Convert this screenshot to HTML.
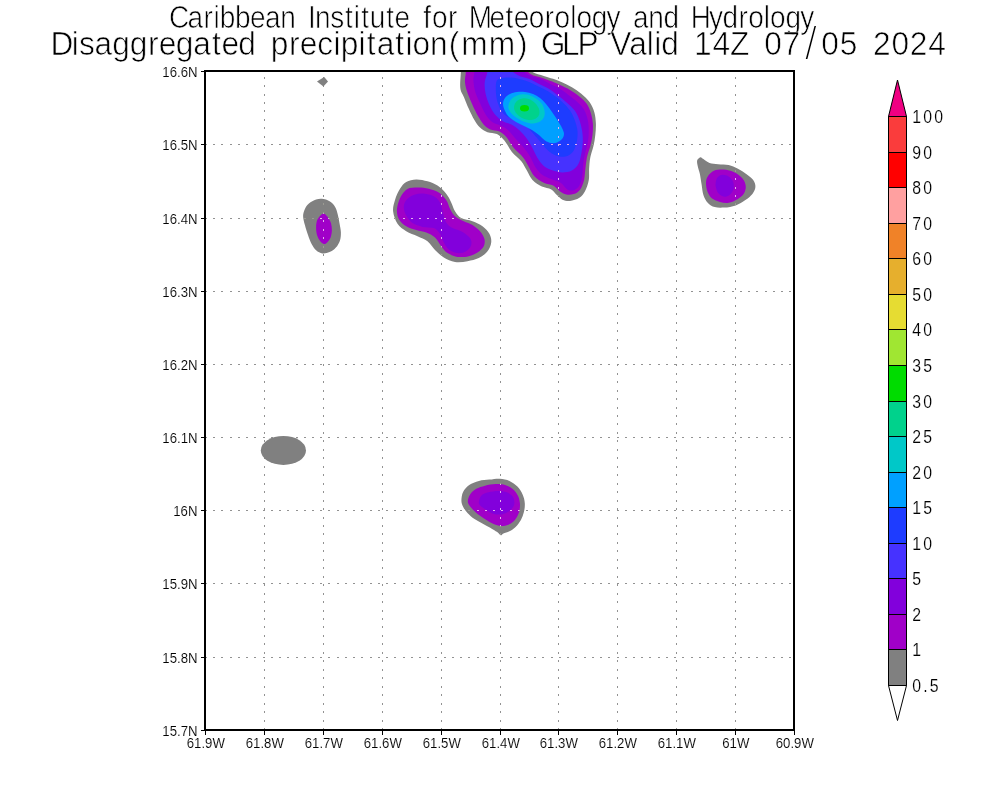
<!DOCTYPE html>
<html lang="en"><head><meta charset="utf-8"><title>Disaggregated precipitation GLP</title>
<style>
html,body{margin:0;padding:0;background:#fff}
body{width:1000px;height:800px;overflow:hidden}
svg{display:block}
text{font-family:"Liberation Sans","DejaVu Sans",sans-serif;fill:#000}
.ttl{font-family:"Liberation Sans",sans-serif;stroke:#fff;stroke-width:.65px}
.ax{font-size:14.5px;stroke:#fff;stroke-width:.12px}
.cb{font-size:18px;stroke:#fff;stroke-width:.15px;letter-spacing:2.5px}
</style></head><body>
<svg width="1000" height="800" viewBox="0 0 1000 800">
<rect width="1000" height="800" fill="#fff"/>
<defs><clipPath id="plot"><rect x="205" y="71" width="589" height="659"/></clipPath></defs>
<g stroke="#929292" stroke-width="1" fill="none" shape-rendering="crispEdges"><g stroke-dasharray="2 6.46"><path d="M264.5 730.0V71.0"/><path d="M323.5 730.0V71.0"/><path d="M382.5 730.0V71.0"/><path d="M441.5 730.0V71.0"/><path d="M500.5 730.0V71.0"/><path d="M558.5 730.0V71.0"/><path d="M617.5 730.0V71.0"/><path d="M676.5 730.0V71.0"/><path d="M735.5 730.0V71.0"/></g><g stroke-dasharray="2 6.23"><path d="M205.0 144.5H794.0"/><path d="M205.0 218.5H794.0"/><path d="M205.0 291.5H794.0"/><path d="M205.0 364.5H794.0"/><path d="M205.0 437.5H794.0"/><path d="M205.0 510.5H794.0"/><path d="M205.0 583.5H794.0"/><path d="M205.0 657.5H794.0"/></g></g>
<g clip-path="url(#plot)">
<path fill="#808080" d="M478.1 48.7C470.7 49.4 464.5 48.7 461.6 52.5C458.8 56.2 461.1 65.3 460.9 71.3C460.7 77.2 459.8 83.8 460.3 88.1C460.8 92.5 462.7 94.1 464.1 97.5C465.5 100.9 467.0 105.0 468.8 108.8C470.5 112.5 472.5 116.9 474.4 120.0C476.3 123.1 477.8 125.5 480.0 127.5C482.2 129.5 484.7 131.1 487.5 132.2C490.3 133.3 494.1 132.7 496.9 134.1C499.7 135.5 501.9 137.7 504.4 140.6C506.9 143.6 509.1 148.4 511.9 151.9C514.7 155.3 518.8 158.1 521.3 161.3C523.8 164.4 525.0 167.5 526.9 170.6C528.8 173.8 530.0 177.4 532.5 180.0C535.0 182.7 538.8 185.0 541.9 186.6C545.0 188.1 548.8 188.0 551.3 189.4C553.8 190.8 555.0 193.3 556.9 195.0C558.8 196.7 560.3 198.7 562.5 199.7C564.7 200.7 567.2 201.3 570.0 201.0C572.8 200.7 576.9 199.4 579.4 197.8C581.9 196.2 583.4 194.2 585.0 191.3C586.6 188.3 588.1 183.8 588.8 180.0C589.4 176.3 588.9 172.5 589.1 168.8C589.4 165.0 589.5 161.3 590.3 157.5C591.0 153.8 592.6 150.0 593.4 146.3C594.3 142.5 594.9 138.8 595.3 135.0C595.7 131.3 596.0 127.5 595.9 123.8C595.7 120.0 595.4 116.1 594.4 112.5C593.4 108.9 591.9 105.3 589.7 102.2C587.5 99.1 584.2 96.3 581.3 93.8C578.3 91.3 575.0 89.1 571.9 87.2C568.8 85.3 565.6 83.9 562.5 82.5C559.4 81.1 556.3 79.8 553.1 78.8C550.0 77.7 547.2 77.1 543.8 75.9C540.3 74.8 535.6 74.0 532.5 72.0C529.4 70.0 529.4 67.6 525.0 63.8C520.6 59.9 514.1 51.2 506.3 48.7C498.4 46.2 485.6 48.1 478.1 48.7Z"/>
<path fill="#a000c8" d="M478.1 48.7C471.6 49.4 468.9 48.7 466.9 52.5C464.8 56.2 466.3 66.3 465.9 71.3C465.6 76.3 464.7 78.8 465.0 82.5C465.3 86.3 466.6 90.0 467.8 93.8C469.1 97.5 470.8 101.3 472.5 105.0C474.2 108.8 476.3 113.0 478.1 116.3C480.0 119.5 481.7 122.5 483.8 124.7C485.8 126.9 487.8 128.3 490.3 129.4C492.8 130.5 496.1 130.0 498.8 131.3C501.4 132.5 503.8 134.1 506.3 136.9C508.8 139.7 510.9 144.7 513.8 148.1C516.6 151.6 520.6 154.4 523.1 157.5C525.6 160.6 526.9 163.8 528.8 166.9C530.6 170.0 531.9 173.6 534.4 176.3C536.9 178.9 540.6 181.3 543.8 182.8C546.9 184.4 550.5 184.2 553.1 185.6C555.8 187.0 557.5 189.8 559.7 191.3C561.9 192.8 563.9 194.2 566.3 194.6C568.6 195.1 571.4 194.9 573.8 194.1C576.1 193.2 578.6 191.7 580.3 189.4C582.0 187.0 583.2 183.4 584.1 180.0C584.9 176.6 584.9 172.5 585.4 168.8C585.9 165.0 586.1 161.3 586.9 157.5C587.7 153.8 589.3 150.0 590.3 146.3C591.2 142.5 592.1 138.8 592.5 135.0C592.9 131.3 593.1 127.3 592.9 123.8C592.6 120.2 592.0 116.7 591.0 113.4C590.0 110.2 588.8 106.9 586.9 104.1C584.9 101.3 582.2 98.9 579.4 96.6C576.6 94.2 573.1 91.9 570.0 90.0C566.9 88.1 563.6 86.7 560.6 85.3C557.7 83.9 555.3 82.8 552.2 81.6C549.1 80.3 545.5 79.1 541.9 77.8C538.3 76.6 534.1 76.4 530.6 74.1C527.2 71.7 525.3 68.0 521.3 63.8C517.2 59.5 513.4 51.2 506.3 48.7C499.1 46.2 484.7 48.1 478.1 48.7Z"/>
<path fill="#8200dc" d="M483.8 48.7C478.6 49.4 476.9 48.7 475.3 52.5C473.8 56.2 474.7 66.6 474.4 71.3C474.1 75.9 473.3 77.2 473.4 80.6C473.6 84.1 474.2 88.1 475.3 91.9C476.4 95.6 478.3 99.4 480.0 103.1C481.7 106.9 483.6 111.3 485.6 114.4C487.7 117.5 489.7 120.0 492.2 121.9C494.7 123.8 498.0 124.2 500.6 125.6C503.3 127.0 505.6 128.1 508.1 130.3C510.6 132.5 513.0 135.8 515.6 138.8C518.3 141.7 521.6 145.0 524.1 148.1C526.6 151.3 528.8 154.4 530.6 157.5C532.5 160.6 533.4 164.1 535.3 166.9C537.2 169.7 539.2 172.4 541.9 174.4C544.5 176.4 548.1 177.7 551.3 179.1C554.4 180.5 558.0 181.1 560.6 182.8C563.3 184.5 565.0 188.1 567.2 189.4C569.4 190.6 571.7 190.9 573.8 190.3C575.8 189.7 578.0 188.0 579.4 185.6C580.8 183.3 581.6 179.7 582.2 176.3C582.8 172.8 582.7 168.8 583.1 165.0C583.6 161.3 584.2 157.5 585.0 153.8C585.8 150.0 587.2 146.3 587.8 142.5C588.4 138.8 588.8 135.0 588.8 131.3C588.8 127.5 588.6 123.6 587.8 120.0C587.0 116.4 585.8 112.7 584.1 109.7C582.4 106.7 580.2 104.7 577.5 102.2C574.9 99.7 571.3 97.0 568.1 94.7C565.0 92.3 561.6 89.8 558.8 88.1C555.9 86.4 554.4 85.9 551.3 84.4C548.1 82.8 543.8 80.3 540.0 78.8C536.3 77.2 532.8 77.5 528.8 75.0C524.7 72.5 519.4 68.1 515.6 63.8C511.9 59.4 511.6 51.2 506.3 48.7C500.9 46.2 488.9 48.1 483.8 48.7Z"/>
<path fill="#4632ff" d="M493.1 48.7C491.1 49.4 489.4 48.7 488.4 52.5C487.5 56.2 488.1 66.3 487.5 71.3C486.9 76.3 485.0 78.8 484.7 82.5C484.4 86.3 484.8 90.0 485.6 93.8C486.4 97.5 487.8 101.6 489.4 105.0C490.9 108.4 492.8 111.7 495.0 114.4C497.2 117.0 499.7 119.2 502.5 120.9C505.3 122.7 509.1 123.1 511.9 124.7C514.7 126.3 516.9 128.0 519.4 130.3C521.9 132.7 524.7 135.8 526.9 138.8C529.1 141.7 530.8 145.0 532.5 148.1C534.2 151.3 535.3 154.5 537.2 157.5C539.1 160.5 541.1 163.8 543.8 165.9C546.4 168.1 550.0 169.5 553.1 170.6C556.3 171.7 559.4 172.5 562.5 172.5C565.6 172.5 569.2 172.0 571.9 170.6C574.5 169.2 576.9 166.9 578.4 164.1C580.0 161.3 580.5 157.3 581.3 153.8C582.0 150.2 582.6 146.3 582.8 142.5C582.9 138.8 582.8 135.0 582.2 131.3C581.6 127.5 580.6 123.4 579.4 120.0C578.1 116.6 576.9 113.6 574.7 110.6C572.5 107.7 569.2 104.8 566.3 102.2C563.3 99.5 560.0 97.0 556.9 94.7C553.8 92.3 550.6 90.0 547.5 88.1C544.4 86.3 541.3 85.0 538.1 83.4C535.0 81.9 532.2 80.2 528.8 78.8C525.3 77.3 521.6 77.5 517.5 75.0C513.4 72.5 507.2 68.1 504.4 63.8C501.6 59.4 502.5 51.2 500.6 48.7C498.8 46.2 495.2 48.1 493.1 48.7Z"/>
<path fill="#1e3cff" d="M496.9 80.6C495.5 83.0 495.8 88.1 495.9 91.9C496.1 95.6 496.7 99.7 497.8 103.1C498.9 106.6 500.5 110.0 502.5 112.5C504.5 115.0 507.2 116.6 510.0 118.1C512.8 119.7 516.4 120.3 519.4 121.9C522.3 123.4 525.3 125.3 527.8 127.5C530.3 129.7 532.2 132.5 534.4 135.0C536.6 137.5 538.8 140.0 540.9 142.5C543.1 145.0 545.0 147.8 547.5 150.0C550.0 152.2 553.0 154.5 555.9 155.6C558.9 156.7 562.5 157.2 565.3 156.6C568.1 155.9 570.9 154.2 572.8 151.9C574.7 149.5 575.8 145.9 576.6 142.5C577.4 139.1 577.8 135.0 577.5 131.3C577.2 127.5 575.9 123.4 574.7 120.0C573.4 116.6 572.0 113.6 570.0 110.6C568.0 107.7 565.3 104.8 562.5 102.2C559.7 99.5 556.3 96.9 553.1 94.7C550.0 92.5 546.9 90.8 543.8 89.1C540.6 87.3 537.5 85.8 534.4 84.4C531.3 83.0 528.4 81.7 525.0 80.6C521.6 79.5 517.2 78.3 513.8 77.8C510.3 77.3 507.2 77.3 504.4 77.8C501.6 78.3 498.3 78.3 496.9 80.6Z"/>
<path fill="#00a0ff" d="M503.0 104.0C503.0 101.8 503.8 99.7 505.0 98.0C506.2 96.3 508.0 95.0 510.0 94.0C512.0 93.0 514.5 92.3 517.0 92.0C519.5 91.7 522.3 91.7 525.0 92.0C527.7 92.3 530.5 93.0 533.0 94.0C535.5 95.0 537.8 96.3 540.0 98.0C542.2 99.7 544.0 101.7 546.0 104.0C548.0 106.3 550.0 109.2 552.0 112.0C554.0 114.8 556.3 118.3 558.0 121.0C559.7 123.7 561.0 125.8 562.0 128.0C563.0 130.2 564.0 132.2 564.0 134.0C564.0 135.8 563.2 137.6 562.0 139.0C560.8 140.4 558.8 141.8 557.0 142.5C555.2 143.2 553.0 143.3 551.0 143.0C549.0 142.7 547.0 141.8 545.0 140.5C543.0 139.2 541.2 136.8 539.0 135.0C536.8 133.2 534.5 131.5 532.0 130.0C529.5 128.5 526.7 127.3 524.0 126.0C521.3 124.7 518.5 123.5 516.0 122.0C513.5 120.5 510.8 118.8 509.0 117.0C507.2 115.2 506.0 113.2 505.0 111.0C504.0 108.8 503.0 106.2 503.0 104.0Z"/>
<path fill="#00c8c8" d="M508.5 108.0C508.2 106.1 508.6 103.8 509.5 102.0C510.4 100.2 512.1 98.2 514.0 97.0C515.9 95.8 518.5 94.8 521.0 94.5C523.5 94.2 526.5 94.3 529.0 95.0C531.5 95.7 533.8 97.0 536.0 98.5C538.2 100.0 540.6 101.9 542.0 104.0C543.4 106.1 544.2 108.8 544.5 111.0C544.8 113.2 544.8 115.2 544.0 117.0C543.2 118.8 541.8 120.4 540.0 121.5C538.2 122.6 535.5 123.4 533.0 123.5C530.5 123.6 527.7 122.9 525.0 122.0C522.3 121.1 519.2 119.4 517.0 118.0C514.8 116.6 512.9 115.2 511.5 113.5C510.1 111.8 508.8 109.9 508.5 108.0Z"/>
<path fill="#00d28c" d="M514.0 108.0C513.9 106.1 514.7 103.6 516.0 102.0C517.3 100.4 519.8 99.0 522.0 98.5C524.2 98.0 526.8 98.2 529.0 99.0C531.2 99.8 533.3 101.3 535.0 103.0C536.7 104.7 538.3 107.0 539.0 109.0C539.7 111.0 539.7 113.3 539.0 115.0C538.3 116.7 536.7 118.2 535.0 119.0C533.3 119.8 531.2 120.2 529.0 120.0C526.8 119.8 524.1 119.1 522.0 118.0C519.9 116.9 517.8 115.2 516.5 113.5C515.2 111.8 514.1 109.9 514.0 108.0Z"/>
<path fill="#808080" d="M393.1 211.2C392.7 207.3 393.9 203.8 395.0 200.0C396.1 196.2 398.1 191.8 400.0 188.8C401.9 185.7 403.5 183.4 406.2 181.9C409.0 180.3 412.7 179.5 416.2 179.4C419.8 179.3 424.0 180.2 427.5 181.2C431.0 182.3 434.4 183.5 437.5 185.6C440.6 187.7 444.0 190.9 446.2 193.8C448.5 196.6 449.8 199.6 451.2 202.5C452.7 205.4 453.3 208.6 455.0 211.2C456.7 213.9 458.3 216.5 461.2 218.1C464.2 219.8 469.0 219.9 472.5 221.2C476.0 222.6 479.7 224.2 482.5 226.2C485.3 228.3 487.9 231.0 489.4 233.8C490.8 236.5 491.6 239.6 491.2 242.5C490.9 245.4 489.6 248.6 487.5 251.2C485.4 253.9 482.1 256.5 478.8 258.1C475.4 259.8 471.5 260.6 467.5 261.2C463.5 261.9 459.0 262.5 455.0 261.9C451.0 261.2 447.1 259.5 443.8 257.5C440.4 255.5 437.7 252.7 435.0 250.0C432.3 247.3 430.4 243.5 427.5 241.2C424.6 239.0 421.0 237.9 417.5 236.2C414.0 234.6 409.6 233.3 406.2 231.2C402.9 229.2 399.7 227.1 397.5 223.8C395.3 220.4 393.5 215.2 393.1 211.2Z"/>
<path fill="#a000c8" d="M396.9 211.2C396.8 208.1 397.7 204.3 398.8 201.2C399.8 198.2 401.4 195.3 403.1 193.1C404.9 190.9 406.8 189.1 409.4 188.1C412.0 187.2 415.5 187.4 418.8 187.5C422.0 187.6 425.4 187.9 428.8 188.8C432.1 189.6 435.8 190.6 438.8 192.5C441.7 194.4 444.4 197.3 446.2 200.0C448.1 202.7 448.5 206.0 450.0 208.8C451.5 211.5 452.7 214.2 455.0 216.2C457.3 218.3 460.8 219.8 463.8 221.2C466.7 222.7 469.8 223.3 472.5 225.0C475.2 226.7 478.0 229.0 480.0 231.2C482.0 233.5 483.8 236.2 484.4 238.8C485.0 241.2 484.9 244.0 483.8 246.2C482.6 248.5 480.0 250.8 477.5 252.5C475.0 254.2 472.1 255.5 468.8 256.2C465.4 257.0 461.0 257.4 457.5 256.9C454.0 256.4 450.2 254.9 447.5 253.1C444.8 251.4 443.3 248.9 441.2 246.2C439.2 243.6 437.5 239.8 435.0 237.5C432.5 235.2 429.4 233.8 426.2 232.5C423.1 231.2 419.6 231.0 416.2 230.0C412.9 229.0 409.1 227.9 406.2 226.2C403.4 224.6 400.9 222.5 399.4 220.0C397.8 217.5 397.0 214.4 396.9 211.2Z"/>
<path fill="#8200dc" d="M403.8 206.2C404.0 203.4 405.6 200.7 407.5 198.8C409.4 196.8 412.1 195.2 415.0 194.4C417.9 193.5 421.7 193.3 425.0 193.8C428.3 194.2 432.4 195.2 435.0 196.9C437.6 198.5 439.3 200.9 440.6 203.8C442.0 206.6 442.2 210.6 443.1 213.8C444.1 216.9 444.7 220.1 446.2 222.5C447.8 224.9 449.8 226.6 452.5 228.1C455.2 229.7 459.6 230.2 462.5 231.9C465.4 233.5 468.5 235.9 470.0 238.1C471.5 240.3 471.9 242.8 471.2 245.0C470.6 247.2 468.5 249.9 466.2 251.2C464.0 252.6 460.4 253.4 457.5 253.1C454.6 252.8 451.0 251.1 448.8 249.4C446.5 247.6 445.2 245.1 443.8 242.5C442.3 239.9 441.7 236.1 440.0 233.8C438.3 231.4 436.7 229.3 433.8 228.1C430.8 227.0 426.0 227.7 422.5 226.9C419.0 226.0 415.2 225.0 412.5 223.1C409.8 221.2 407.7 218.4 406.2 215.6C404.8 212.8 403.5 209.1 403.8 206.2Z"/>
<path fill="#808080" d="M697.2 160.3C697.7 158.9 699.3 157.5 700.3 157.2C701.3 157.0 701.8 158.1 703.4 159.0C704.9 159.9 707.0 162.1 709.5 162.9C712.0 163.8 715.0 163.9 718.2 164.2C721.5 164.6 725.5 164.4 728.7 165.1C732.0 165.9 734.6 167.2 737.5 168.6C740.4 170.1 743.6 172.0 746.2 173.9C748.9 175.8 751.7 177.8 753.2 180.0C754.8 182.2 755.6 184.7 755.4 187.0C755.3 189.3 754.0 191.8 752.4 194.0C750.7 196.2 748.1 198.2 745.4 200.1C742.6 202.0 739.2 204.1 735.7 205.4C732.2 206.6 727.9 207.3 724.4 207.6C720.9 207.8 717.5 207.9 714.7 207.1C712.0 206.3 709.6 204.8 707.7 202.7C705.9 200.7 704.4 197.9 703.4 194.9C702.4 191.8 702.2 187.9 701.6 184.4C701.0 180.9 700.5 176.9 699.9 173.9C699.2 170.8 698.1 168.3 697.7 166.0C697.2 163.7 696.8 161.8 697.2 160.3Z"/>
<path fill="#a000c8" d="M706.0 183.5C706.0 180.9 706.4 178.6 707.7 176.5C709.1 174.4 711.5 172.0 713.9 170.8C716.2 169.6 719.0 169.5 721.7 169.5C724.5 169.5 727.7 169.9 730.5 170.8C733.3 171.7 736.2 173.2 738.4 174.7C740.6 176.3 742.4 178.0 743.6 180.0C744.9 182.0 745.8 184.7 745.8 187.0C745.8 189.3 745.0 192.0 743.6 194.0C742.2 196.0 740.0 197.8 737.5 199.2C735.0 200.7 731.7 202.3 728.7 202.7C725.8 203.2 722.8 202.6 720.0 201.9C717.2 201.1 714.2 200.0 712.1 198.4C710.1 196.8 708.8 194.7 707.7 192.2C706.7 189.8 706.0 186.1 706.0 183.5Z"/>
<path fill="#8200dc" d="M715.6 183.5C715.8 181.7 716.2 178.8 717.4 177.4C718.5 175.9 720.7 174.9 722.6 174.7C724.5 174.6 727.0 175.3 728.7 176.5C730.5 177.7 732.3 179.7 733.1 181.7C733.9 183.8 734.1 186.6 733.6 188.7C733.0 190.9 731.3 193.6 729.6 194.9C727.9 196.2 725.4 196.9 723.5 196.6C721.6 196.3 719.5 194.6 718.2 193.1C717.0 191.7 716.5 189.5 716.1 187.9C715.6 186.3 715.4 185.2 715.6 183.5Z"/>
<path fill="#808080" d="M303.1 216.1C303.1 213.4 303.9 211.0 304.9 208.9C305.8 206.8 307.0 205.1 308.9 203.5C310.8 201.9 313.7 200.2 316.1 199.5C318.5 198.7 321.1 198.7 323.3 199.0C325.6 199.3 327.7 200.0 329.6 201.3C331.6 202.5 333.7 204.5 335.0 206.7C336.4 208.8 337.0 211.5 337.7 214.3C338.5 217.1 339.0 220.3 339.5 223.3C340.0 226.3 340.8 229.5 340.9 232.3C340.9 235.2 340.8 237.9 340.0 240.4C339.1 243.0 337.6 245.7 335.9 247.6C334.2 249.6 331.9 251.1 329.6 252.1C327.4 253.1 324.7 253.8 322.4 253.5C320.2 253.2 317.9 251.9 316.1 250.3C314.3 248.7 313.0 246.6 311.6 244.0C310.3 241.5 309.1 238.2 308.0 235.0C306.9 231.9 305.7 228.3 304.9 225.1C304.0 222.0 303.1 218.8 303.1 216.1Z"/>
<path fill="#a000c8" d="M323.8 213.4C325.0 213.6 326.6 215.4 327.8 217.0C329.0 218.7 330.3 221.1 331.0 223.3C331.6 225.6 331.9 228.1 331.9 230.5C331.8 232.9 331.3 235.7 330.5 237.7C329.7 239.7 328.0 241.6 326.9 242.7C325.8 243.7 325.0 244.4 323.8 244.0C322.6 243.6 320.8 241.9 319.7 240.4C318.6 238.9 317.6 237.1 317.0 235.0C316.4 232.9 316.1 230.2 316.1 227.8C316.1 225.4 316.3 222.6 317.0 220.6C317.7 218.6 319.0 216.9 320.2 215.7C321.3 214.5 322.5 213.2 323.8 213.4Z"/>
<path fill="#808080" d="M461.4 500.6C461.4 498.1 461.8 494.5 463.1 491.9C464.4 489.2 466.6 486.7 469.2 484.9C471.9 483.1 475.5 481.8 478.9 480.9C482.2 480.1 485.9 480.0 489.4 479.6C492.9 479.3 496.5 478.5 499.9 478.7C503.2 479.0 506.6 479.6 509.5 480.9C512.4 482.2 515.2 484.4 517.4 486.6C519.6 488.9 521.4 491.7 522.6 494.5C523.9 497.3 524.6 500.3 524.8 503.2C525.0 506.2 524.6 509.2 523.9 512.0C523.3 514.8 522.3 517.4 520.9 519.9C519.5 522.3 517.5 525.0 515.6 526.9C513.7 528.8 511.5 530.1 509.5 531.2C507.5 532.3 504.8 532.8 503.4 533.4C501.9 534.1 501.8 535.4 500.7 535.2C499.7 535.0 499.0 533.4 497.2 532.1C495.5 530.9 492.7 529.2 490.2 527.7C487.8 526.3 485.0 524.8 482.4 523.4C479.7 521.9 477.0 520.7 474.5 519.0C472.0 517.2 469.4 514.9 467.5 512.9C465.6 510.8 464.1 508.8 463.1 506.7C462.1 504.7 461.4 503.1 461.4 500.6Z"/>
<path fill="#a000c8" d="M467.9 502.4C467.5 499.9 468.7 496.8 470.1 494.5C471.5 492.2 473.8 490.3 476.2 488.8C478.7 487.4 481.8 486.6 485.0 485.7C488.2 484.9 492.1 484.1 495.5 484.0C498.8 483.9 502.2 484.0 505.1 484.9C508.0 485.7 510.8 487.4 513.0 489.2C515.2 491.1 517.1 493.8 518.2 496.2C519.4 498.7 519.8 501.5 520.0 504.1C520.1 506.7 519.8 509.5 519.1 512.0C518.4 514.5 517.1 517.0 515.6 519.0C514.2 521.0 512.4 522.6 510.4 523.8C508.3 525.0 505.8 525.8 503.4 526.0C500.9 526.1 498.1 525.6 495.5 524.7C492.9 523.8 490.2 522.3 487.6 520.7C485.0 519.2 482.2 517.4 479.7 515.5C477.3 513.6 474.7 511.6 472.7 509.4C470.8 507.2 468.4 504.8 467.9 502.4Z"/>
<path fill="#8200dc" d="M478.9 501.5C479.2 499.9 479.9 496.9 481.5 495.4C483.1 493.8 485.7 493.0 488.5 492.3C491.3 491.6 495.1 491.0 498.1 491.0C501.2 491.0 504.4 491.3 506.9 492.3C509.3 493.3 511.8 495.2 513.0 497.1C514.2 499.1 514.6 502.1 514.3 504.1C514.0 506.2 512.6 507.9 511.2 509.4C509.9 510.8 508.0 512.0 506.0 512.9C504.0 513.7 501.5 514.6 499.0 514.6C496.5 514.6 493.6 513.9 491.1 512.9C488.6 511.8 486.0 509.8 484.1 508.5C482.2 507.2 480.6 506.2 479.7 505.0C478.9 503.8 478.6 503.1 478.9 501.5Z"/>
<ellipse cx="524.5" cy="108.3" rx="4.5" ry="3.2" fill="#00dc00"/>
<ellipse cx="283.4" cy="450.4" rx="22.6" ry="14.5" fill="#808080"/>
<path fill="#808080" d="M317 81.4L324.2 77L328 81.4L323.4 86.6Z"/>
<clipPath id="gry"><path d="M478.1 48.7C470.7 49.4 464.5 48.7 461.6 52.5C458.8 56.2 461.1 65.3 460.9 71.3C460.7 77.2 459.8 83.8 460.3 88.1C460.8 92.5 462.7 94.1 464.1 97.5C465.5 100.9 467.0 105.0 468.8 108.8C470.5 112.5 472.5 116.9 474.4 120.0C476.3 123.1 477.8 125.5 480.0 127.5C482.2 129.5 484.7 131.1 487.5 132.2C490.3 133.3 494.1 132.7 496.9 134.1C499.7 135.5 501.9 137.7 504.4 140.6C506.9 143.6 509.1 148.4 511.9 151.9C514.7 155.3 518.8 158.1 521.3 161.3C523.8 164.4 525.0 167.5 526.9 170.6C528.8 173.8 530.0 177.4 532.5 180.0C535.0 182.7 538.8 185.0 541.9 186.6C545.0 188.1 548.8 188.0 551.3 189.4C553.8 190.8 555.0 193.3 556.9 195.0C558.8 196.7 560.3 198.7 562.5 199.7C564.7 200.7 567.2 201.3 570.0 201.0C572.8 200.7 576.9 199.4 579.4 197.8C581.9 196.2 583.4 194.2 585.0 191.3C586.6 188.3 588.1 183.8 588.8 180.0C589.4 176.3 588.9 172.5 589.1 168.8C589.4 165.0 589.5 161.3 590.3 157.5C591.0 153.8 592.6 150.0 593.4 146.3C594.3 142.5 594.9 138.8 595.3 135.0C595.7 131.3 596.0 127.5 595.9 123.8C595.7 120.0 595.4 116.1 594.4 112.5C593.4 108.9 591.9 105.3 589.7 102.2C587.5 99.1 584.2 96.3 581.3 93.8C578.3 91.3 575.0 89.1 571.9 87.2C568.8 85.3 565.6 83.9 562.5 82.5C559.4 81.1 556.3 79.8 553.1 78.8C550.0 77.7 547.2 77.1 543.8 75.9C540.3 74.8 535.6 74.0 532.5 72.0C529.4 70.0 529.4 67.6 525.0 63.8C520.6 59.9 514.1 51.2 506.3 48.7C498.4 46.2 485.6 48.1 478.1 48.7Z"/><path d="M393.1 211.2C392.7 207.3 393.9 203.8 395.0 200.0C396.1 196.2 398.1 191.8 400.0 188.8C401.9 185.7 403.5 183.4 406.2 181.9C409.0 180.3 412.7 179.5 416.2 179.4C419.8 179.3 424.0 180.2 427.5 181.2C431.0 182.3 434.4 183.5 437.5 185.6C440.6 187.7 444.0 190.9 446.2 193.8C448.5 196.6 449.8 199.6 451.2 202.5C452.7 205.4 453.3 208.6 455.0 211.2C456.7 213.9 458.3 216.5 461.2 218.1C464.2 219.8 469.0 219.9 472.5 221.2C476.0 222.6 479.7 224.2 482.5 226.2C485.3 228.3 487.9 231.0 489.4 233.8C490.8 236.5 491.6 239.6 491.2 242.5C490.9 245.4 489.6 248.6 487.5 251.2C485.4 253.9 482.1 256.5 478.8 258.1C475.4 259.8 471.5 260.6 467.5 261.2C463.5 261.9 459.0 262.5 455.0 261.9C451.0 261.2 447.1 259.5 443.8 257.5C440.4 255.5 437.7 252.7 435.0 250.0C432.3 247.3 430.4 243.5 427.5 241.2C424.6 239.0 421.0 237.9 417.5 236.2C414.0 234.6 409.6 233.3 406.2 231.2C402.9 229.2 399.7 227.1 397.5 223.8C395.3 220.4 393.5 215.2 393.1 211.2Z"/><path d="M697.2 160.3C697.7 158.9 699.3 157.5 700.3 157.2C701.3 157.0 701.8 158.1 703.4 159.0C704.9 159.9 707.0 162.1 709.5 162.9C712.0 163.8 715.0 163.9 718.2 164.2C721.5 164.6 725.5 164.4 728.7 165.1C732.0 165.9 734.6 167.2 737.5 168.6C740.4 170.1 743.6 172.0 746.2 173.9C748.9 175.8 751.7 177.8 753.2 180.0C754.8 182.2 755.6 184.7 755.4 187.0C755.3 189.3 754.0 191.8 752.4 194.0C750.7 196.2 748.1 198.2 745.4 200.1C742.6 202.0 739.2 204.1 735.7 205.4C732.2 206.6 727.9 207.3 724.4 207.6C720.9 207.8 717.5 207.9 714.7 207.1C712.0 206.3 709.6 204.8 707.7 202.7C705.9 200.7 704.4 197.9 703.4 194.9C702.4 191.8 702.2 187.9 701.6 184.4C701.0 180.9 700.5 176.9 699.9 173.9C699.2 170.8 698.1 168.3 697.7 166.0C697.2 163.7 696.8 161.8 697.2 160.3Z"/><path d="M303.1 216.1C303.1 213.4 303.9 211.0 304.9 208.9C305.8 206.8 307.0 205.1 308.9 203.5C310.8 201.9 313.7 200.2 316.1 199.5C318.5 198.7 321.1 198.7 323.3 199.0C325.6 199.3 327.7 200.0 329.6 201.3C331.6 202.5 333.7 204.5 335.0 206.7C336.4 208.8 337.0 211.5 337.7 214.3C338.5 217.1 339.0 220.3 339.5 223.3C340.0 226.3 340.8 229.5 340.9 232.3C340.9 235.2 340.8 237.9 340.0 240.4C339.1 243.0 337.6 245.7 335.9 247.6C334.2 249.6 331.9 251.1 329.6 252.1C327.4 253.1 324.7 253.8 322.4 253.5C320.2 253.2 317.9 251.9 316.1 250.3C314.3 248.7 313.0 246.6 311.6 244.0C310.3 241.5 309.1 238.2 308.0 235.0C306.9 231.9 305.7 228.3 304.9 225.1C304.0 222.0 303.1 218.8 303.1 216.1Z"/><path d="M461.4 500.6C461.4 498.1 461.8 494.5 463.1 491.9C464.4 489.2 466.6 486.7 469.2 484.9C471.9 483.1 475.5 481.8 478.9 480.9C482.2 480.1 485.9 480.0 489.4 479.6C492.9 479.3 496.5 478.5 499.9 478.7C503.2 479.0 506.6 479.6 509.5 480.9C512.4 482.2 515.2 484.4 517.4 486.6C519.6 488.9 521.4 491.7 522.6 494.5C523.9 497.3 524.6 500.3 524.8 503.2C525.0 506.2 524.6 509.2 523.9 512.0C523.3 514.8 522.3 517.4 520.9 519.9C519.5 522.3 517.5 525.0 515.6 526.9C513.7 528.8 511.5 530.1 509.5 531.2C507.5 532.3 504.8 532.8 503.4 533.4C501.9 534.1 501.8 535.4 500.7 535.2C499.7 535.0 499.0 533.4 497.2 532.1C495.5 530.9 492.7 529.2 490.2 527.7C487.8 526.3 485.0 524.8 482.4 523.4C479.7 521.9 477.0 520.7 474.5 519.0C472.0 517.2 469.4 514.9 467.5 512.9C465.6 510.8 464.1 508.8 463.1 506.7C462.1 504.7 461.4 503.1 461.4 500.6Z"/></clipPath>
<g clip-path="url(#gry)"><g stroke="#9a9a92" stroke-width="1" fill="none" shape-rendering="crispEdges"><g stroke-dasharray="2 6.46"><path d="M264.5 730.0V71.0"/><path d="M323.5 730.0V71.0"/><path d="M382.5 730.0V71.0"/><path d="M441.5 730.0V71.0"/><path d="M500.5 730.0V71.0"/><path d="M558.5 730.0V71.0"/><path d="M617.5 730.0V71.0"/><path d="M676.5 730.0V71.0"/><path d="M735.5 730.0V71.0"/></g><g stroke-dasharray="2 6.23"><path d="M205.0 144.5H794.0"/><path d="M205.0 218.5H794.0"/><path d="M205.0 291.5H794.0"/><path d="M205.0 364.5H794.0"/><path d="M205.0 437.5H794.0"/><path d="M205.0 510.5H794.0"/><path d="M205.0 583.5H794.0"/><path d="M205.0 657.5H794.0"/></g></g>
</g>
<clipPath id="purp"><path d="M478.1 48.7C471.6 49.4 468.9 48.7 466.9 52.5C464.8 56.2 466.3 66.3 465.9 71.3C465.6 76.3 464.7 78.8 465.0 82.5C465.3 86.3 466.6 90.0 467.8 93.8C469.1 97.5 470.8 101.3 472.5 105.0C474.2 108.8 476.3 113.0 478.1 116.3C480.0 119.5 481.7 122.5 483.8 124.7C485.8 126.9 487.8 128.3 490.3 129.4C492.8 130.5 496.1 130.0 498.8 131.3C501.4 132.5 503.8 134.1 506.3 136.9C508.8 139.7 510.9 144.7 513.8 148.1C516.6 151.6 520.6 154.4 523.1 157.5C525.6 160.6 526.9 163.8 528.8 166.9C530.6 170.0 531.9 173.6 534.4 176.3C536.9 178.9 540.6 181.3 543.8 182.8C546.9 184.4 550.5 184.2 553.1 185.6C555.8 187.0 557.5 189.8 559.7 191.3C561.9 192.8 563.9 194.2 566.3 194.6C568.6 195.1 571.4 194.9 573.8 194.1C576.1 193.2 578.6 191.7 580.3 189.4C582.0 187.0 583.2 183.4 584.1 180.0C584.9 176.6 584.9 172.5 585.4 168.8C585.9 165.0 586.1 161.3 586.9 157.5C587.7 153.8 589.3 150.0 590.3 146.3C591.2 142.5 592.1 138.8 592.5 135.0C592.9 131.3 593.1 127.3 592.9 123.8C592.6 120.2 592.0 116.7 591.0 113.4C590.0 110.2 588.8 106.9 586.9 104.1C584.9 101.3 582.2 98.9 579.4 96.6C576.6 94.2 573.1 91.9 570.0 90.0C566.9 88.1 563.6 86.7 560.6 85.3C557.7 83.9 555.3 82.8 552.2 81.6C549.1 80.3 545.5 79.1 541.9 77.8C538.3 76.6 534.1 76.4 530.6 74.1C527.2 71.7 525.3 68.0 521.3 63.8C517.2 59.5 513.4 51.2 506.3 48.7C499.1 46.2 484.7 48.1 478.1 48.7Z"/><path d="M396.9 211.2C396.8 208.1 397.7 204.3 398.8 201.2C399.8 198.2 401.4 195.3 403.1 193.1C404.9 190.9 406.8 189.1 409.4 188.1C412.0 187.2 415.5 187.4 418.8 187.5C422.0 187.6 425.4 187.9 428.8 188.8C432.1 189.6 435.8 190.6 438.8 192.5C441.7 194.4 444.4 197.3 446.2 200.0C448.1 202.7 448.5 206.0 450.0 208.8C451.5 211.5 452.7 214.2 455.0 216.2C457.3 218.3 460.8 219.8 463.8 221.2C466.7 222.7 469.8 223.3 472.5 225.0C475.2 226.7 478.0 229.0 480.0 231.2C482.0 233.5 483.8 236.2 484.4 238.8C485.0 241.2 484.9 244.0 483.8 246.2C482.6 248.5 480.0 250.8 477.5 252.5C475.0 254.2 472.1 255.5 468.8 256.2C465.4 257.0 461.0 257.4 457.5 256.9C454.0 256.4 450.2 254.9 447.5 253.1C444.8 251.4 443.3 248.9 441.2 246.2C439.2 243.6 437.5 239.8 435.0 237.5C432.5 235.2 429.4 233.8 426.2 232.5C423.1 231.2 419.6 231.0 416.2 230.0C412.9 229.0 409.1 227.9 406.2 226.2C403.4 224.6 400.9 222.5 399.4 220.0C397.8 217.5 397.0 214.4 396.9 211.2Z"/><path d="M706.0 183.5C706.0 180.9 706.4 178.6 707.7 176.5C709.1 174.4 711.5 172.0 713.9 170.8C716.2 169.6 719.0 169.5 721.7 169.5C724.5 169.5 727.7 169.9 730.5 170.8C733.3 171.7 736.2 173.2 738.4 174.7C740.6 176.3 742.4 178.0 743.6 180.0C744.9 182.0 745.8 184.7 745.8 187.0C745.8 189.3 745.0 192.0 743.6 194.0C742.2 196.0 740.0 197.8 737.5 199.2C735.0 200.7 731.7 202.3 728.7 202.7C725.8 203.2 722.8 202.6 720.0 201.9C717.2 201.1 714.2 200.0 712.1 198.4C710.1 196.8 708.8 194.7 707.7 192.2C706.7 189.8 706.0 186.1 706.0 183.5Z"/><path d="M323.8 213.4C325.0 213.6 326.6 215.4 327.8 217.0C329.0 218.7 330.3 221.1 331.0 223.3C331.6 225.6 331.9 228.1 331.9 230.5C331.8 232.9 331.3 235.7 330.5 237.7C329.7 239.7 328.0 241.6 326.9 242.7C325.8 243.7 325.0 244.4 323.8 244.0C322.6 243.6 320.8 241.9 319.7 240.4C318.6 238.9 317.6 237.1 317.0 235.0C316.4 232.9 316.1 230.2 316.1 227.8C316.1 225.4 316.3 222.6 317.0 220.6C317.7 218.6 319.0 216.9 320.2 215.7C321.3 214.5 322.5 213.2 323.8 213.4Z"/><path d="M467.9 502.4C467.5 499.9 468.7 496.8 470.1 494.5C471.5 492.2 473.8 490.3 476.2 488.8C478.7 487.4 481.8 486.6 485.0 485.7C488.2 484.9 492.1 484.1 495.5 484.0C498.8 483.9 502.2 484.0 505.1 484.9C508.0 485.7 510.8 487.4 513.0 489.2C515.2 491.1 517.1 493.8 518.2 496.2C519.4 498.7 519.8 501.5 520.0 504.1C520.1 506.7 519.8 509.5 519.1 512.0C518.4 514.5 517.1 517.0 515.6 519.0C514.2 521.0 512.4 522.6 510.4 523.8C508.3 525.0 505.8 525.8 503.4 526.0C500.9 526.1 498.1 525.6 495.5 524.7C492.9 523.8 490.2 522.3 487.6 520.7C485.0 519.2 482.2 517.4 479.7 515.5C477.3 513.6 474.7 511.6 472.7 509.4C470.8 507.2 468.4 504.8 467.9 502.4Z"/></clipPath>
<g clip-path="url(#purp)"><g stroke="#e4b0ee" stroke-width="1" fill="none" shape-rendering="crispEdges"><g stroke-dasharray="2 6.46"><path d="M264.5 730.0V71.0"/><path d="M323.5 730.0V71.0"/><path d="M382.5 730.0V71.0"/><path d="M441.5 730.0V71.0"/><path d="M500.5 730.0V71.0"/><path d="M558.5 730.0V71.0"/><path d="M617.5 730.0V71.0"/><path d="M676.5 730.0V71.0"/><path d="M735.5 730.0V71.0"/></g><g stroke-dasharray="2 6.23"><path d="M205.0 144.5H794.0"/><path d="M205.0 218.5H794.0"/><path d="M205.0 291.5H794.0"/><path d="M205.0 364.5H794.0"/><path d="M205.0 437.5H794.0"/><path d="M205.0 510.5H794.0"/><path d="M205.0 583.5H794.0"/><path d="M205.0 657.5H794.0"/></g></g>
</g>
</g>
<rect x="205" y="71" width="589" height="659" fill="none" stroke="#000" stroke-width="2" shape-rendering="crispEdges"/>
<g stroke="#000" stroke-width="1" shape-rendering="crispEdges"><path d="M205.5 731V735"/><path d="M264.5 731V735"/><path d="M323.5 731V735"/><path d="M382.5 731V735"/><path d="M441.5 731V735"/><path d="M500.5 731V735"/><path d="M558.5 731V735"/><path d="M617.5 731V735"/><path d="M676.5 731V735"/><path d="M735.5 731V735"/><path d="M794.5 731V735"/><path d="M201 71.5H204"/><path d="M201 144.5H204"/><path d="M201 218.5H204"/><path d="M201 291.5H204"/><path d="M201 364.5H204"/><path d="M201 437.5H204"/><path d="M201 510.5H204"/><path d="M201 583.5H204"/><path d="M201 657.5H204"/><path d="M201 730.5H204"/></g>
<text class="ax" transform="translate(197.5 77.1) scale(.91 1)" text-anchor="end">16.6N</text>
<text class="ax" transform="translate(197.5 150.1) scale(.91 1)" text-anchor="end">16.5N</text>
<text class="ax" transform="translate(197.5 224.1) scale(.91 1)" text-anchor="end">16.4N</text>
<text class="ax" transform="translate(197.5 297.1) scale(.91 1)" text-anchor="end">16.3N</text>
<text class="ax" transform="translate(197.5 370.1) scale(.91 1)" text-anchor="end">16.2N</text>
<text class="ax" transform="translate(197.5 443.1) scale(.91 1)" text-anchor="end">16.1N</text>
<text class="ax" transform="translate(197.5 516.1) scale(.91 1)" text-anchor="end">16N</text>
<text class="ax" transform="translate(197.5 589.1) scale(.91 1)" text-anchor="end">15.9N</text>
<text class="ax" transform="translate(197.5 663.1) scale(.91 1)" text-anchor="end">15.8N</text>
<text class="ax" transform="translate(197.5 736.1) scale(.91 1)" text-anchor="end">15.7N</text>
<text class="ax" transform="translate(205.8 748.4) scale(.91 1)" text-anchor="middle">61.9W</text>
<text class="ax" transform="translate(264.8 748.4) scale(.91 1)" text-anchor="middle">61.8W</text>
<text class="ax" transform="translate(323.8 748.4) scale(.91 1)" text-anchor="middle">61.7W</text>
<text class="ax" transform="translate(382.8 748.4) scale(.91 1)" text-anchor="middle">61.6W</text>
<text class="ax" transform="translate(441.8 748.4) scale(.91 1)" text-anchor="middle">61.5W</text>
<text class="ax" transform="translate(500.8 748.4) scale(.91 1)" text-anchor="middle">61.4W</text>
<text class="ax" transform="translate(558.8 748.4) scale(.91 1)" text-anchor="middle">61.3W</text>
<text class="ax" transform="translate(617.8 748.4) scale(.91 1)" text-anchor="middle">61.2W</text>
<text class="ax" transform="translate(676.8 748.4) scale(.91 1)" text-anchor="middle">61.1W</text>
<text class="ax" transform="translate(735.8 748.4) scale(.91 1)" text-anchor="middle">61W</text>
<text class="ax" transform="translate(794.8 748.4) scale(.91 1)" text-anchor="middle">60.9W</text>
<rect x="888.5" y="649.5" width="18" height="36.0" fill="#808080" stroke="#000" stroke-width="1"/>
<rect x="888.5" y="614.5" width="18" height="35.0" fill="#a000c8" stroke="#000" stroke-width="1"/>
<rect x="888.5" y="578.5" width="18" height="36.0" fill="#8200dc" stroke="#000" stroke-width="1"/>
<rect x="888.5" y="543.5" width="18" height="35.0" fill="#4632ff" stroke="#000" stroke-width="1"/>
<rect x="888.5" y="507.5" width="18" height="36.0" fill="#1e3cff" stroke="#000" stroke-width="1"/>
<rect x="888.5" y="472.5" width="18" height="35.0" fill="#00a0ff" stroke="#000" stroke-width="1"/>
<rect x="888.5" y="436.5" width="18" height="36.0" fill="#00c8c8" stroke="#000" stroke-width="1"/>
<rect x="888.5" y="401.5" width="18" height="35.0" fill="#00d28c" stroke="#000" stroke-width="1"/>
<rect x="888.5" y="365.5" width="18" height="36.0" fill="#00dc00" stroke="#000" stroke-width="1"/>
<rect x="888.5" y="329.5" width="18" height="36.0" fill="#a0e632" stroke="#000" stroke-width="1"/>
<rect x="888.5" y="294.5" width="18" height="35.0" fill="#e6dc32" stroke="#000" stroke-width="1"/>
<rect x="888.5" y="258.5" width="18" height="36.0" fill="#e6af2d" stroke="#000" stroke-width="1"/>
<rect x="888.5" y="223.5" width="18" height="35.0" fill="#f08228" stroke="#000" stroke-width="1"/>
<rect x="888.5" y="187.5" width="18" height="36.0" fill="#ffa0a0" stroke="#000" stroke-width="1"/>
<rect x="888.5" y="152.5" width="18" height="35.0" fill="#ff0000" stroke="#000" stroke-width="1"/>
<rect x="888.5" y="116.5" width="18" height="36.0" fill="#fa3c3c" stroke="#000" stroke-width="1"/>
<path d="M888.5 116.5L897.5 80L906.5 116.5Z" fill="#f00082" stroke="#000" stroke-width="1" stroke-linejoin="miter"/>
<path d="M888.5 685.5L897.5 720.5L906.5 685.5Z" fill="#fff" stroke="#000" stroke-width="1"/>
<text class="cb" transform="translate(912.2 692.0) scale(.88 1)">0.5</text>
<text class="cb" transform="translate(912.2 656.4) scale(.88 1)">1</text>
<text class="cb" transform="translate(912.2 620.9) scale(.88 1)">2</text>
<text class="cb" transform="translate(912.2 585.3) scale(.88 1)">5</text>
<text class="cb" transform="translate(912.2 549.8) scale(.88 1)">10</text>
<text class="cb" transform="translate(912.2 514.2) scale(.88 1)">15</text>
<text class="cb" transform="translate(912.2 478.6) scale(.88 1)">20</text>
<text class="cb" transform="translate(912.2 443.1) scale(.88 1)">25</text>
<text class="cb" transform="translate(912.2 407.5) scale(.88 1)">30</text>
<text class="cb" transform="translate(912.2 371.9) scale(.88 1)">35</text>
<text class="cb" transform="translate(912.2 336.4) scale(.88 1)">40</text>
<text class="cb" transform="translate(912.2 300.8) scale(.88 1)">50</text>
<text class="cb" transform="translate(912.2 265.2) scale(.88 1)">60</text>
<text class="cb" transform="translate(912.2 229.7) scale(.88 1)">70</text>
<text class="cb" transform="translate(912.2 194.1) scale(.88 1)">80</text>
<text class="cb" transform="translate(912.2 158.6) scale(.88 1)">90</text>
<text class="cb" transform="translate(912.2 123.0) scale(.88 1)">100</text>
<text class="ttl" font-size="28" transform="translate(0 28.1) scale(1 1.09)" text-anchor="middle" x="179.1 195.2 208.1 216.6 227.5 242.8 257.8 272.7 288.0 302.1 311.8 322.7 337.2 348.9 357.0 365.1 377.6 390.1 402.2 415.9 427.2 439.7 452.6 464.3 480.5 497.4 509.5 521.6 536.6 549.5 562.4 573.3 584.2 599.5 613.6 626.6 640.7 656.0 671.3 685.5 700.8 716.1 730.3 743.2 756.1 767.0 777.9 793.2 807.3">Caribbean Institute for Meteorology and Hydrology</text>
<text class="ttl" font-size="31.7" transform="translate(0 55.4) scale(1 1.05)" text-anchor="middle" x="62.0 75.3 86.9 103.4 121.0 138.5 153.2 167.5 184.5 202.1 216.3 230.2 247.2 263.3 279.5 294.2 308.5 325.1 337.1 349.5 362.0 371.2 385.5 399.7 409.0 421.4 438.9 454.1 474.4 502.0 522.3 536.1 553.2 570.7 588.2 605.3 620.9 638.0 650.4 657.8 670.2 686.4 702.9 721.4 739.8 756.4 773.0 791.4 810.8 830.1 848.6 865.2 881.7 900.2 918.6 937.0">Disaggregated precipitation(mm) GLP Valid 14Z 07<tspan font-size="46" dy="4.6" style="stroke-width:1.9px">/</tspan><tspan dy="-4.6">05 2024</tspan></text>
</svg></body></html>
